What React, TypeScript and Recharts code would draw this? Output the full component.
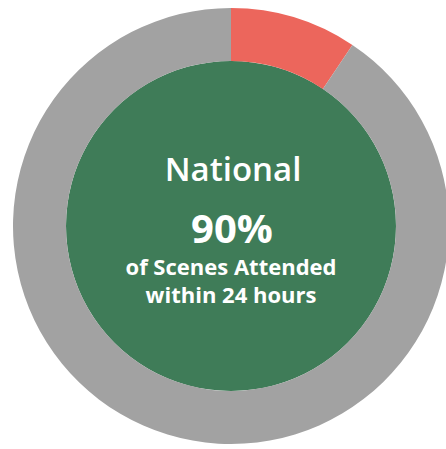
import React from 'react';
import { PieChart, Pie, Cell } from 'recharts';

// outer ring: share of scenes not attended vs attended within 24h
const ringNames = ['Not attended', 'Attended'];
const ringValues = [9.4, 90.6];
const ringColors = ['#ec665c', '#a2a2a2'];

const coreNames = ['National'];
const coreValues = [100];
const coreColors = ['#3f7c58'];

const textLines = ['National', '90%', 'of Scenes Attended', 'within 24 hours'];

const ringData = ringNames.map((name, i) => ({ name, value: ringValues[i] }));
const coreData = coreNames.map((name, i) => ({ name, value: coreValues[i] }));

const W = 446;
const H = 449;
const CX = 231;
const CY = 226;

const font = '"Open Sans", "Noto Sans", sans-serif';

const App: React.FC = () => {
  return (
    <div style={{ position: 'absolute', left: 0, top: 0, width: W, height: H, background: '#fff' }}>
      <PieChart width={W} height={H} margin={{ top: 0, right: 0, bottom: 0, left: 0 }}>
        <Pie
          data={coreData}
          dataKey="value"
          cx={CX}
          cy={CY}
          innerRadius={0}
          outerRadius={165}
          startAngle={90}
          endAngle={-270}
          stroke="none"
          isAnimationActive={false}
        >
          {coreData.map((d, i) => (
            <Cell key={d.name} fill={coreColors[i]} />
          ))}
        </Pie>
        <Pie
          data={ringData}
          dataKey="value"
          cx={CX}
          cy={CY}
          innerRadius={165}
          outerRadius={218}
          startAngle={90}
          endAngle={-270}
          stroke="none"
          isAnimationActive={false}
        >
          {ringData.map((d, i) => (
            <Cell key={d.name} fill={ringColors[i]} />
          ))}
        </Pie>
      </PieChart>
      <svg
        width={W}
        height={H}
        style={{ position: 'absolute', left: 0, top: 0, pointerEvents: 'none' }}
      >
        <text x={CX + 2} y={181} textAnchor="middle" fill="#fff" fontFamily={font} fontWeight={600} fontSize={33}>
          {textLines[0]}
        </text>
        <text x={CX + 1} y={243} textAnchor="middle" fill="#fff" fontFamily={font} fontWeight={700} fontSize={40}>
          {textLines[1]}
        </text>
        <text x={CX} y={275} textAnchor="middle" fill="#fff" fontFamily={font} fontWeight={700} fontSize={22}>
          {textLines[2]}
        </text>
        <text x={CX} y={303} textAnchor="middle" fill="#fff" fontFamily={font} fontWeight={700} fontSize={22}>
          {textLines[3]}
        </text>
      </svg>
    </div>
  );
};

export default App;
